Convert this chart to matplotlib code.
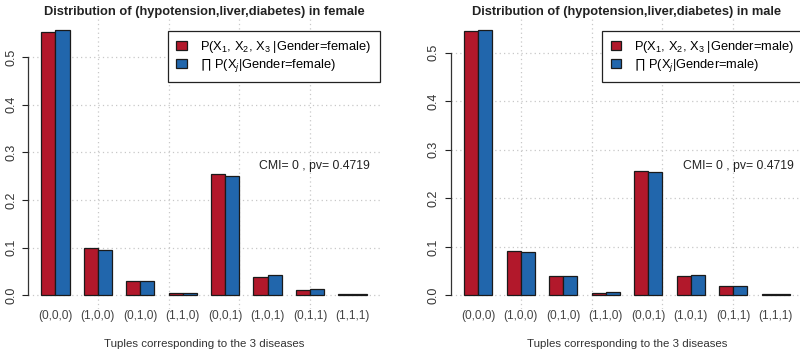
import numpy as np
import matplotlib
matplotlib.use("Agg")
import matplotlib.pyplot as plt
from matplotlib.patches import Patch

plt.rcParams['font.family'] = ['Liberation Sans', 'DejaVu Sans']
plt.rcParams['mathtext.fontset'] = 'custom'
plt.rcParams['mathtext.rm'] = 'Liberation Sans'
plt.rcParams['mathtext.it'] = 'Liberation Sans:italic'
plt.rcParams['mathtext.bf'] = 'Liberation Sans:bold'

tuples = ["(0,0,0)", "(1,0,0)", "(0,1,0)", "(1,1,0)",
          "(0,0,1)", "(1,0,1)", "(0,1,1)", "(1,1,1)"]

female_joint = [0.552, 0.100, 0.031, 0.004, 0.255, 0.038, 0.012, 0.003]
female_prod = [0.557, 0.096, 0.030, 0.005, 0.250, 0.043, 0.014, 0.0025]

male_joint = [0.545, 0.092, 0.040, 0.005, 0.257, 0.040, 0.0185, 0.003]
male_prod = [0.5475, 0.090, 0.040, 0.006, 0.255, 0.042, 0.0185, 0.003]

cmi_text = "CMI= 0 , pv= 0.4719"

RED = '#B2182B'
BLUE = '#2166AC'
EDGE = '#1a1a1a'
GRID = '#c8c8c8'


def draw_panel(ax, joint, prod, gender):
    n = len(tuples)
    left = 1 + 3 * np.arange(n)  # same layout as R barplot(beside=TRUE)
    ax.bar(left + 0.5, joint, width=1, color=RED, edgecolor=EDGE, linewidth=0.9, zorder=3)
    ax.bar(left + 1.5, prod, width=1, color=BLUE, edgecolor=EDGE, linewidth=0.9, zorder=3)

    # R-like limits: 4% padding around the data range
    xlo, xhi = 1, left[-1] + 2
    xpad = 0.04 * (xhi - xlo)
    ax.set_xlim(xlo - xpad, xhi + xpad)
    top = max(max(joint), max(prod))
    ylo, yhi = -0.01 * top, top
    ypad = 0.04 * (yhi - ylo)
    ax.set_ylim(ylo - ypad, yhi + ypad)

    yt = np.arange(0, 0.51, 0.1)
    ax.set_yticks(yt)
    ax.set_yticklabels([f"{v:.1f}" for v in yt], rotation=90, va='center', fontsize=9, color='#333333')
    ax.tick_params(axis='y', length=4, width=0.8, pad=4, color='#222222')
    ax.set_xticks(left + 1)
    ax.set_xticklabels(tuples, fontsize=8.6, color='#444444')
    ax.tick_params(axis='x', length=0, pad=1)

    for v in yt:
        ax.axhline(v, color=GRID, linestyle=(0, (1, 2.5)), linewidth=0.9, zorder=1)
    for v in [5, 10, 15, 20]:
        ax.axvline(v, color=GRID, linestyle=(0, (1, 2.5)), linewidth=0.9, zorder=1)

    for s in ['top', 'right', 'bottom']:
        ax.spines[s].set_visible(False)
    ax.spines['left'].set_bounds(0, 0.5)
    ax.spines['left'].set_color('#333333')
    ax.spines['left'].set_linewidth(0.9)

    ax.set_title(f"Distribution of (hypotension,liver,diabetes) in {gender}",
                 fontsize=9.3, fontweight='bold', color='#222222', pad=3)
    ax.set_xlabel("Tuples corresponding to the 3 diseases", fontsize=8.25, color='#333333', labelpad=12.5)

    ax.annotate(cmi_text, xy=(20.35, top / 2), xytext=(0, -4.5), textcoords='offset points',
                ha='center', va='baseline', fontsize=8.8, color='#222222')

    handles = [Patch(facecolor=RED, edgecolor=EDGE, linewidth=0.9),
               Patch(facecolor=BLUE, edgecolor=EDGE, linewidth=0.9)]
    labels = [f"P(X$_1$, X$_2$, X$_3$ |Gender={gender})",
              f"\u220f P(X$_j$|Gender={gender})"]
    leg = ax.legend(handles, labels, loc='upper right', bbox_to_anchor=(1.0, 0.96), fontsize=9.3,
                    handlelength=0.78, handleheight=0.75, handletextpad=1.05, labelspacing=0.15,
                    borderpad=0.65, borderaxespad=0, fancybox=False, framealpha=1)
    leg.get_frame().set_edgecolor('#222222')
    leg.get_frame().set_linewidth(0.9)


fig = plt.figure(figsize=(8, 3.54), dpi=100)
ax1 = fig.add_axes([0.0354, 0.128, 0.439, 0.818])
ax2 = fig.add_axes([0.5638, 0.128, 0.44, 0.818])

draw_panel(ax1, female_joint, female_prod, 'female')
draw_panel(ax2, male_joint, male_prod, 'male')

fig.savefig('out.png', dpi=100)
